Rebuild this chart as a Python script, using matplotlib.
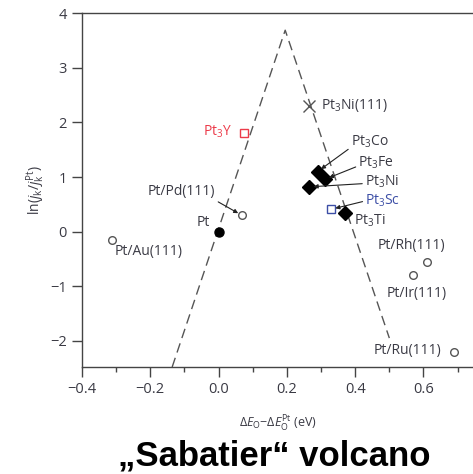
import numpy as np
import matplotlib
matplotlib.use("Agg")
import matplotlib.pyplot as plt

plt.rcParams['font.family'] = ['Open Sans', 'DejaVu Sans']
plt.rcParams['mathtext.fontset'] = 'custom'
plt.rcParams['mathtext.rm'] = 'Open Sans'
plt.rcParams['mathtext.it'] = 'Open Sans:italic'
plt.rcParams['mathtext.default'] = 'regular'

# volcano guide line (apex and the two ends)
volcano_x = [-0.136, 0.195, 0.50]
volcano_y = [-2.48, 3.69, -1.95]

# open circles: Pt skins on single crystals
skin_names = ["Pt/Au(111)", "Pt/Pd(111)", "Pt/Rh(111)", "Pt/Ir(111)", "Pt/Ru(111)"]
skin_x = [-0.312, 0.068, 0.61, 0.569, 0.69]
skin_y = [-0.15, 0.30, -0.56, -0.79, -2.20]

# filled diamonds: polycrystalline alloys
alloy_names = ["Pt$_3$Co", "Pt$_3$Fe", "Pt$_3$Ni", "Pt$_3$Ti"]
alloy_x = [0.29, 0.312, 0.266, 0.371]
alloy_y = [1.10, 0.96, 0.82, 0.34]

pt_x, pt_y = 0.0, 0.0
y_x, y_y = 0.073, 1.81        # Pt3Y
sc_x, sc_y = 0.33, 0.41       # Pt3Sc
ni111_x, ni111_y = 0.266, 2.30

txt = '#3a3a44'
red = '#ec3b4a'
blue = '#3c4ea6'

fig = plt.figure(figsize=(4.73, 4.74), dpi=100)
ax = fig.add_axes([0.1734, 0.2257, 0.8266, 0.7463])
ax.set_xlim(-0.4, 0.745)
ax.set_ylim(-2.48, 4)

ax.plot(volcano_x, volcano_y, color='#555555', lw=1.0, dashes=(7, 4))

ax.plot(skin_x, skin_y, 'o', ms=5.5, mfc='white', mec='#555555', mew=1.0, ls='none')
ax.plot(alloy_x, alloy_y, 'D', ms=6.8, color='black', ls='none')
ax.plot([pt_x], [pt_y], 'o', ms=6.5, color='black')
ax.plot([y_x], [y_y], 's', ms=6, mfc='white', mec=red, mew=1.0)
ax.plot([sc_x], [sc_y], 's', ms=6, mfc='white', mec=blue, mew=1.0)
ax.plot([ni111_x], [ni111_y], 'x', ms=8, color='#555555', mew=1.0)

fs = 10
arrow = dict(arrowstyle='-|>', color='#222222', lw=0.8, mutation_scale=6, shrinkA=0, shrinkB=3)

def lab(s, x, y, dx, dy, ha='left', color=txt, arr=None, relpos=(0, 0.5)):
    kw = {}
    if arr:
        a = dict(arrow)
        a['relpos'] = relpos
        kw['arrowprops'] = a
    ax.annotate(s, xy=(x, y), xytext=(dx, dy), textcoords='offset points',
                ha=ha, va='center', fontsize=fs, color=color, **kw)

lab("Pt", pt_x, pt_y, -6, 6.5, ha='right')
lab(skin_names[0], skin_x[0], skin_y[0], 2, -8.5)
lab(skin_names[1], skin_x[1], skin_y[1], -19, 17, ha='right', arr=True, relpos=(0.95, 0.05))
lab(skin_names[2], skin_x[2], skin_y[2], -10.8, 11.7, ha='center')
lab(skin_names[3], skin_x[3], skin_y[3], 2.9, -13.2, ha='center')
lab(skin_names[4], skin_x[4], skin_y[4], -9.6, 1.2, ha='right')
lab("Pt$_3$Y", y_x, y_y, -8, 0.7, ha='right', color=red)
lab("Pt$_3$Ni(111)", ni111_x, ni111_y, 8.2, 0.7)
lab(alloy_names[0], alloy_x[0], alloy_y[0], 24, 21.6, arr=True, relpos=(0, 0.15))
lab(alloy_names[1], alloy_x[1], alloy_y[1], 24, 12, arr=True, relpos=(0, 0.3))
lab(alloy_names[2], alloy_x[2], alloy_y[2], 40, 3.6, arr=True, relpos=(0, 0.4))
lab("Pt$_3$Sc", sc_x, sc_y, 24.5, 6, color=blue, arr=True, relpos=(0, 0.5))
lab(alloy_names[3], alloy_x[3], alloy_y[3], 6.5, -5.3)

ax.spines['right'].set_visible(False)
for s in ['left', 'top', 'bottom']:
    ax.spines[s].set_color('#444444')
    ax.spines[s].set_linewidth(1.0)

ax.set_xticks([-0.4, -0.2, 0.0, 0.2, 0.4, 0.6])
ax.set_xticklabels(['\u22120.4', '\u22120.2', '0.0', '0.2', '0.4', '0.6'])
ax.set_xticks(np.arange(-0.3, 0.75, 0.2), minor=True)
ax.set_yticks([-2, -1, 0, 1, 2, 3, 4])
ax.set_yticklabels(['\u22122', '\u22121', '0', '1', '2', '3', '4'])
ax.tick_params(axis='both', which='major', direction='out', length=7, width=1.0,
               color='#444444', labelsize=10.5, labelcolor=txt, pad=4)
ax.tick_params(axis='x', which='minor', direction='out', length=3.5, width=1.0, color='#444444')

ax.set_ylabel(r'ln($\mathit{j}_\mathrm{k}$/$\mathit{j}_\mathrm{k}^{\mathrm{Pt}}$)',
              fontsize=10, color=txt, labelpad=2)
ax.set_xlabel(r'$\Delta \mathit{E}_\mathrm{O}$$-$$\Delta \mathit{E}_\mathrm{O}^{\mathrm{Pt}}$ (eV)',
              fontsize=9, color=txt, labelpad=12)

fig.text(274 / 473, 1 - 456 / 474, '\u201eSabatier\u201c volcano', ha='center', va='center',
         fontsize=25, fontweight='bold', family='Liberation Sans', color='black')

fig.savefig('out.png', dpi=100)
